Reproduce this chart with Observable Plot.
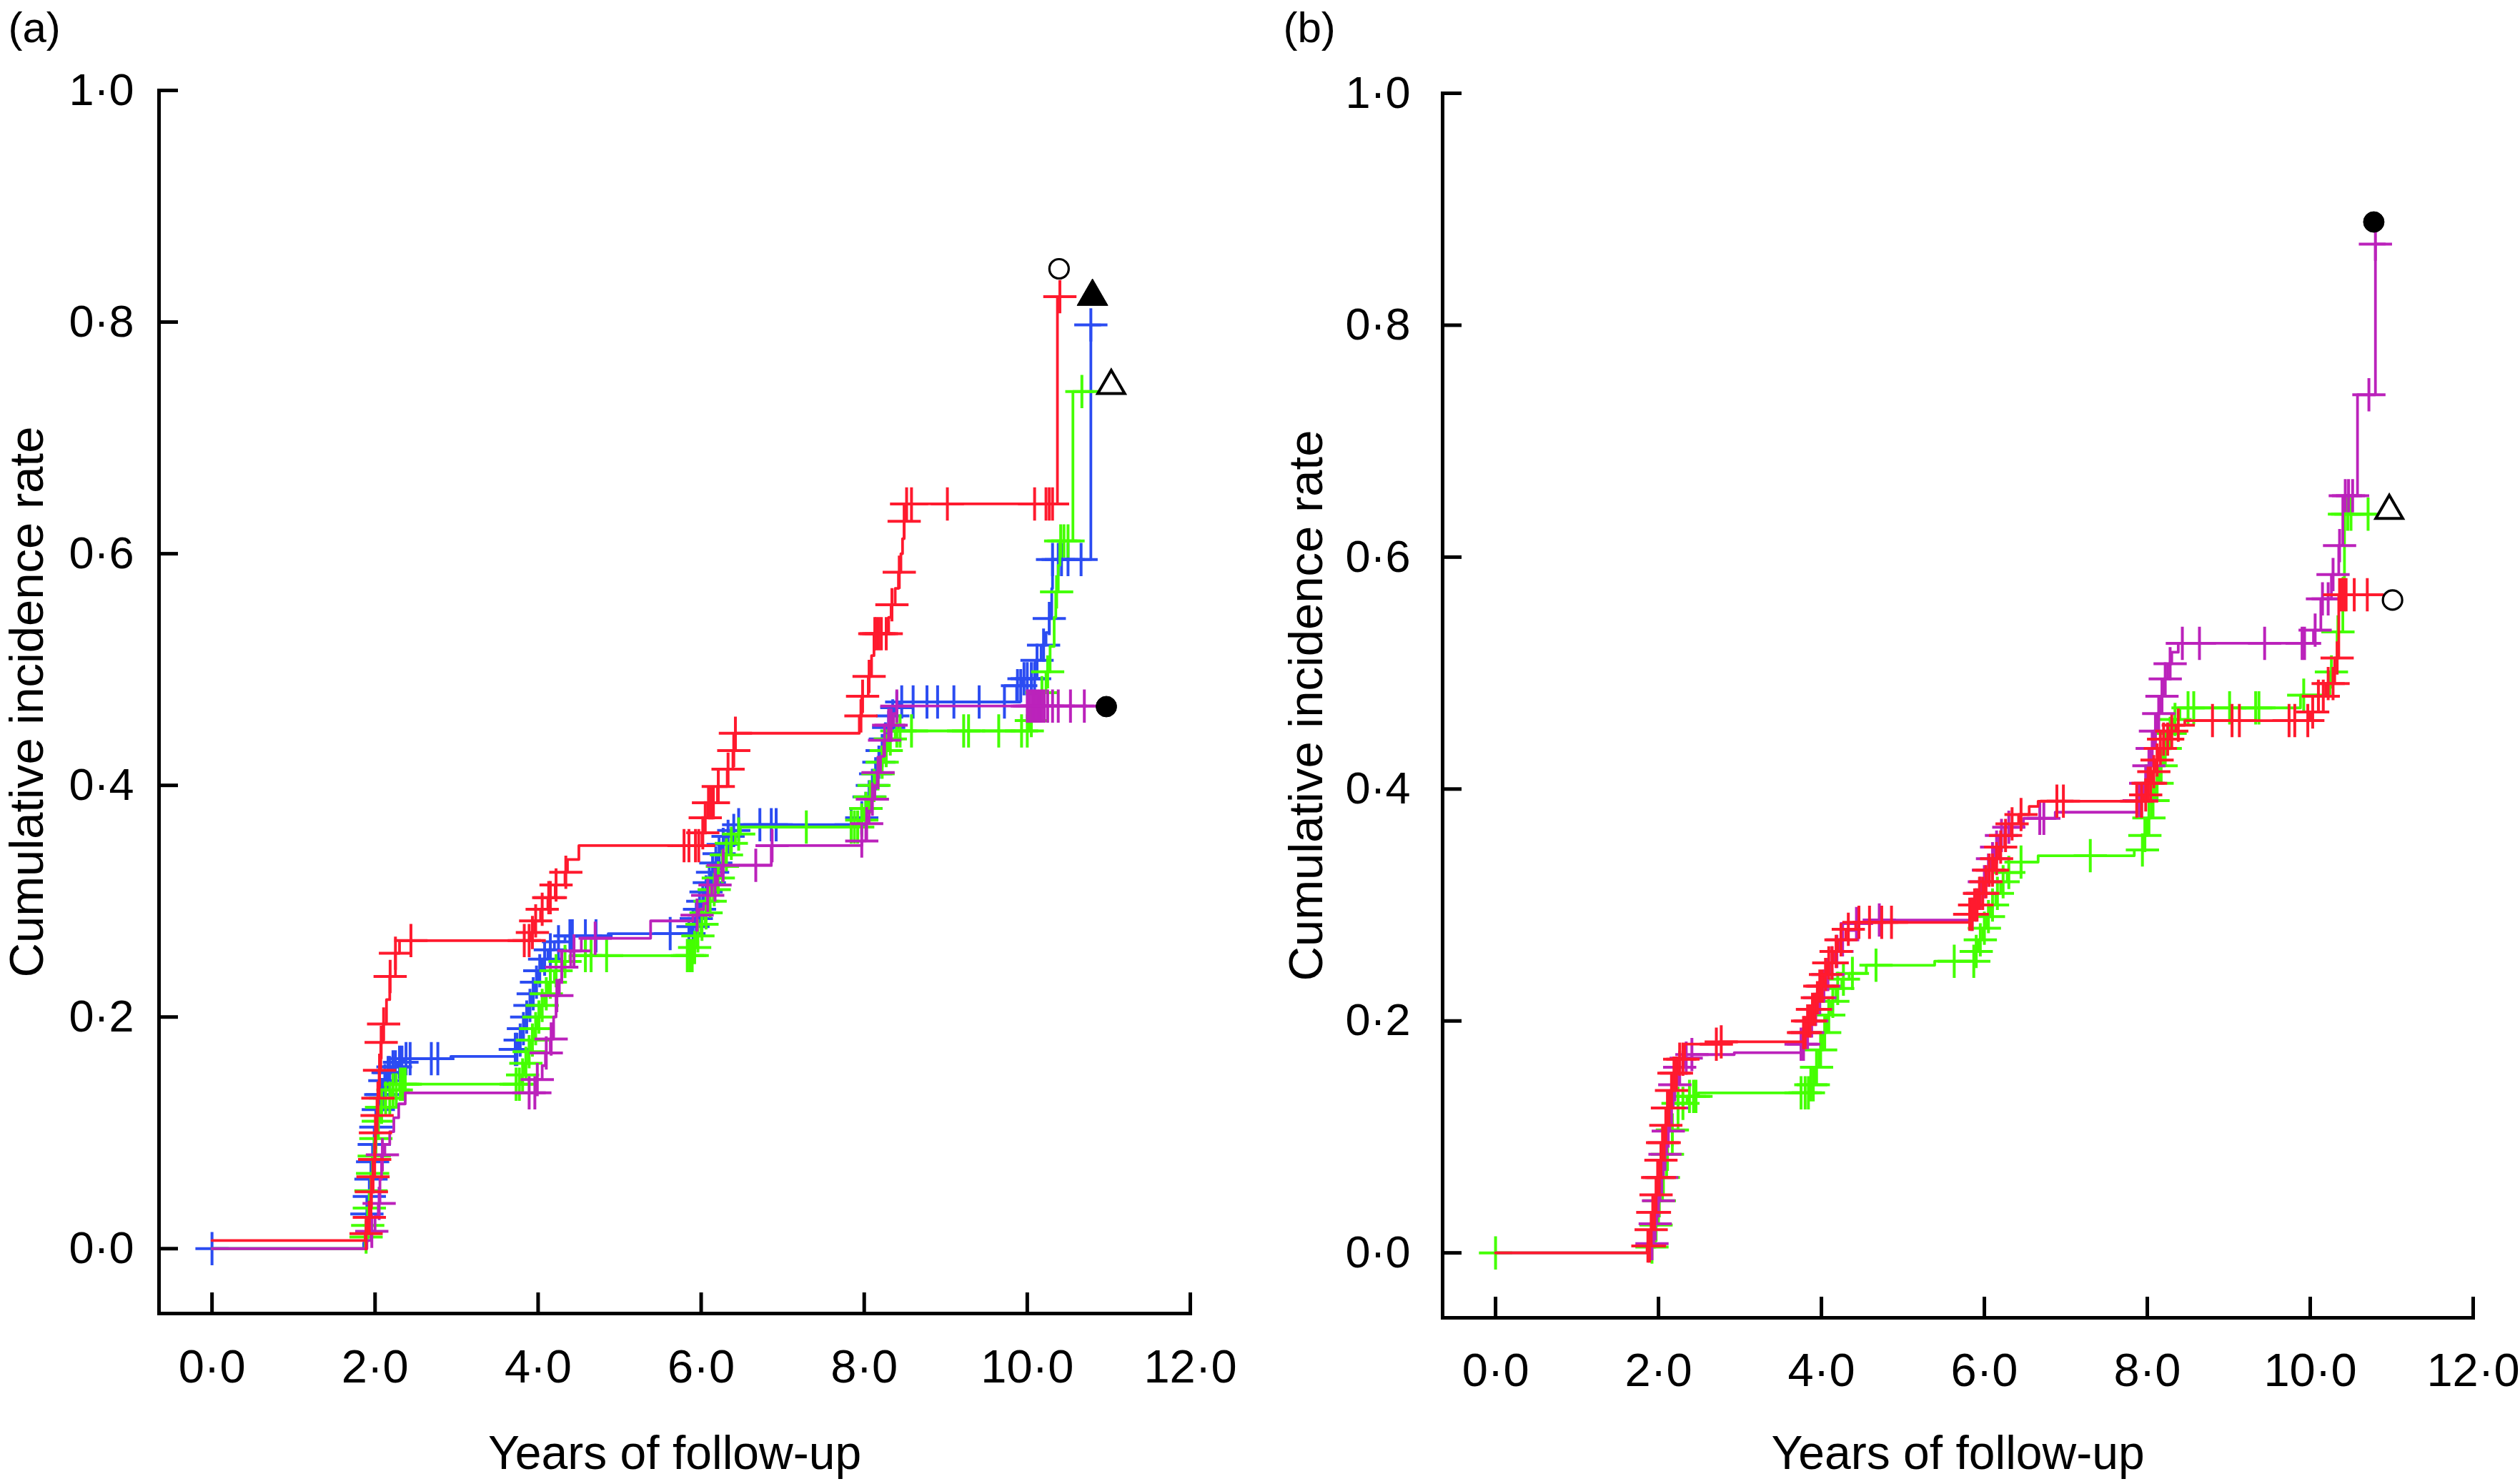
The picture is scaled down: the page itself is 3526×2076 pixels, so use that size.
<!DOCTYPE html>
<html><head><meta charset="utf-8">
<script src="https://cdn.jsdelivr.net/npm/d3@7"></script>
<script src="https://cdn.jsdelivr.net/npm/@observablehq/plot@0.6"></script>
<style>
html,body{margin:0;padding:0;background:#fff;}
#root{position:relative;width:3526px;height:2076px;background:#fff;overflow:hidden;}
#root svg{position:absolute;top:0;}
</style></head><body><div id="root"></div>
<script>
// ---------- axes ----------
const xTicks = [0, 2, 4, 6, 8, 10, 12];
const yTicks = [0, 0.2, 0.4, 0.6, 0.8, 1.0];
const xTitle = "Years of follow-up";
const yTitle = "Cumulative incidence rate";
const panelLabels = ["(a)", "(b)"];

// ---------- panel (a) ----------
const aRedT = [0,1.88,1.92,1.95,1.97,1.99,2.00,2.02,2.03,2.05,2.07,2.10,2.14,2.18,2.25,2.30,3.92,3.96,4.03,4.12,4.21,4.33,4.36,4.50,6.01,6.04,6.08,6.20,6.32,6.39,6.42,7.94,7.97,8.05,8.09,8.12,8.30,8.33,8.38,8.42,8.45,8.47,8.49,8.50,10.37,10.53];
const aRedV = [0.007,0.013,0.027,0.049,0.062,0.077,0.100,0.115,0.130,0.154,0.178,0.194,0.215,0.235,0.255,0.266,0.273,0.283,0.293,0.303,0.314,0.325,0.336,0.348,0.359,0.372,0.385,0.399,0.414,0.430,0.445,0.460,0.477,0.494,0.512,0.531,0.545,0.556,0.570,0.584,0.600,0.613,0.628,0.643,0.822,0.822];
const aRedC = [1.89,1.93,1.955,1.975,1.995,2.005,2.025,2.035,2.055,2.075,2.105,2.185,2.25,2.44,3.83,3.89,3.93,3.97,4.05,4.13,4.15,4.22,4.34,5.79,5.85,5.93,5.97,6.02,6.05,6.09,6.11,6.13,6.15,6.21,6.33,6.40,6.42,7.96,7.98,8.06,8.13,8.15,8.18,8.21,8.27,8.34,8.43,8.49,8.52,8.58,9.02,10.09,10.23,10.27,10.31,10.40];

const aBlueT = [0,1.86,1.88,1.90,1.92,1.94,1.96,1.98,2.00,2.03,2.06,2.10,2.15,2.20,2.28,2.36,2.93,3.72,3.76,3.80,3.84,3.88,3.92,3.96,4.00,4.05,4.12,4.20,4.33,4.86,5.88,5.92,5.96,6.00,6.04,6.08,6.12,6.16,6.20,6.25,6.30,6.36,6.46,7.95,8.00,8.04,8.08,8.12,8.16,8.20,8.24,8.28,8.33,8.38,8.43,9.87,9.93,10.10,10.17,10.23,10.27,10.30,10.31,10.78,10.90];
const aBlueV = [0,0.005,0.015,0.030,0.045,0.060,0.075,0.090,0.105,0.120,0.133,0.145,0.152,0.157,0.161,0.164,0.166,0.172,0.180,0.190,0.200,0.210,0.220,0.230,0.240,0.250,0.258,0.265,0.270,0.272,0.278,0.285,0.293,0.300,0.308,0.316,0.325,0.333,0.341,0.349,0.356,0.361,0.366,0.372,0.380,0.390,0.400,0.410,0.420,0.430,0.440,0.450,0.460,0.467,0.472,0.486,0.492,0.508,0.521,0.532,0.544,0.570,0.595,0.7975,0.7975];
const aBlueC = [0,1.90,1.93,1.95,1.97,1.99,2.01,2.04,2.07,2.09,2.12,2.16,2.18,2.22,2.25,2.30,2.33,2.38,2.43,2.69,2.77,3.72,3.74,3.78,3.82,3.86,3.90,3.94,3.98,4.02,4.08,4.15,4.25,4.39,4.42,4.58,4.71,5.62,5.85,5.90,5.94,5.98,6.02,6.06,6.10,6.14,6.18,6.22,6.27,6.33,6.40,6.46,6.72,6.86,6.92,7.84,7.97,8.02,8.06,8.10,8.14,8.18,8.22,8.26,8.30,8.35,8.40,8.46,8.60,8.77,8.90,9.10,9.41,9.72,9.88,9.92,9.96,10.00,10.05,10.09,10.12,10.20,10.27,10.31,10.38,10.42,10.50,10.66,10.78];

const aGreenT = [0,1.88,1.90,1.92,1.94,1.96,1.98,2.00,2.03,2.07,2.12,2.20,2.30,3.80,3.84,3.88,3.92,3.96,4.00,4.04,4.08,4.13,4.20,4.30,4.39,5.90,5.95,6.00,6.05,6.10,6.15,6.20,6.25,6.30,6.36,6.42,6.48,7.95,8.00,8.05,8.10,8.15,8.20,8.25,8.30,8.38,10.03,10.17,10.23,10.28,10.33,10.35,10.38,10.40,10.56,10.81];
const aGreenV = [0,0.010,0.020,0.035,0.050,0.065,0.080,0.095,0.110,0.122,0.130,0.137,0.142,0.150,0.160,0.170,0.180,0.190,0.200,0.210,0.220,0.230,0.240,0.248,0.253,0.260,0.270,0.280,0.290,0.300,0.310,0.320,0.330,0.340,0.350,0.358,0.364,0.370,0.380,0.390,0.400,0.410,0.420,0.430,0.440,0.447,0.456,0.480,0.498,0.520,0.545,0.567,0.590,0.611,0.740,0.740];
const aGreenC = [1.89,1.91,1.93,1.95,1.97,1.99,2.01,2.04,2.08,2.13,2.18,2.22,2.26,2.31,2.34,2.37,3.73,3.77,3.81,3.85,3.89,3.93,3.97,4.01,4.05,4.10,4.15,4.22,4.33,4.58,4.65,4.84,5.83,5.86,5.89,5.92,5.96,6.01,6.06,6.11,6.16,6.21,6.26,6.31,6.37,6.46,7.29,7.84,7.88,7.92,7.97,8.02,8.07,8.12,8.17,8.22,8.27,8.32,8.40,8.44,8.58,9.22,9.28,9.65,9.93,10.00,10.05,10.18,10.25,10.36,10.41,10.45,10.50,10.67];

const aPurpleT = [0,1.90,1.95,2.00,2.04,2.06,2.08,2.12,2.18,2.23,2.29,2.37,3.97,4.05,4.09,4.15,4.19,4.22,4.26,4.29,4.40,4.53,5.38,5.90,5.97,6.03,6.08,6.13,6.20,6.25,6.86,7.97,8.02,8.06,8.09,8.13,8.16,8.20,8.24,8.30,8.36,8.40,10.82];
const aPurpleV = [0,0.007,0.015,0.028,0.039,0.060,0.081,0.090,0.101,0.113,0.125,0.1345,0.146,0.158,0.169,0.181,0.200,0.2185,0.232,0.243,0.257,0.268,0.283,0.288,0.293,0.298,0.305,0.314,0.322,0.331,0.348,0.352,0.367,0.378,0.388,0.400,0.411,0.425,0.439,0.452,0.462,0.4685,0.4685];
const aPurpleC = [1.96,2.05,2.09,3.89,3.96,3.99,4.10,4.16,4.23,4.29,4.44,4.70,5.95,6.08,6.17,6.27,6.67,6.87,7.97,8.03,8.10,8.17,8.25,8.30,8.33,8.40,10.00,10.03,10.06,10.09,10.12,10.15,10.18,10.21,10.25,10.31,10.38,10.53,10.70];

const aMarkGroup = ["red", "blue", "green", "purple"];
const aMarkX = [10.39, 10.80, 11.03, 10.97];
const aMarkY = [0.846, 0.822, 0.745, 0.468];

// ---------- panel (b) ----------
const bGreenT = [0,1.90,1.96,2.00,2.05,2.10,2.17,2.24,2.35,2.49,3.87,3.92,3.97,4.02,4.07,4.12,4.18,4.25,4.34,4.55,5.39,5.88,5.93,5.98,6.03,6.08,6.14,6.20,6.28,6.45,6.66,7.84,7.95,8.00,8.05,8.10,8.15,8.20,8.26,8.32,8.40,9.88,10.24,10.33,10.40,10.42,10.80];
const bGreenV = [0,0.005,0.024,0.045,0.065,0.085,0.106,0.129,0.135,0.138,0.145,0.160,0.175,0.190,0.205,0.217,0.228,0.236,0.241,0.248,0.2515,0.260,0.270,0.280,0.290,0.300,0.310,0.320,0.328,0.337,0.3425,0.3475,0.360,0.375,0.390,0.405,0.420,0.435,0.448,0.460,0.470,0.481,0.501,0.5355,0.582,0.637,0.637];
const bGreenC = [0,1.92,1.97,2.01,2.06,2.11,2.17,2.24,2.30,2.38,2.43,2.46,3.75,3.80,3.84,3.87,3.90,3.94,3.99,4.04,4.09,4.14,4.20,4.27,4.38,4.67,5.63,5.87,5.90,5.95,6.00,6.05,6.10,6.16,6.23,6.30,6.45,7.30,7.94,7.97,8.02,8.07,8.12,8.17,8.22,8.28,8.34,8.50,8.57,9.01,9.33,9.37,9.92,10.26,10.34,10.42,10.46,10.50,10.71];

const bPurpleT = [0,1.90,1.94,1.98,2.02,2.06,2.10,2.14,2.18,2.24,2.32,2.41,2.93,3.75,3.80,3.85,3.90,3.95,4.00,4.05,4.10,4.16,4.22,4.30,4.43,4.54,5.82,5.87,5.92,5.97,6.02,6.07,6.12,6.18,6.25,6.48,6.87,7.90,7.95,8.00,8.04,8.08,8.12,8.16,8.20,8.25,8.30,8.38,10.04,10.13,10.26,10.35,10.40,10.58,10.80,10.92];
const bPurpleV = [0,0.008,0.025,0.045,0.065,0.085,0.105,0.125,0.145,0.160,0.168,0.171,0.1726,0.180,0.190,0.200,0.210,0.220,0.230,0.240,0.250,0.260,0.270,0.278,0.284,0.287,0.292,0.300,0.310,0.320,0.330,0.340,0.350,0.360,0.367,0.3747,0.380,0.390,0.405,0.420,0.435,0.450,0.465,0.480,0.495,0.508,0.518,0.5257,0.537,0.564,0.585,0.610,0.653,0.740,0.870,0.870];
const bPurpleC = [1.92,1.96,2.00,2.04,2.08,2.12,2.16,2.20,2.26,2.34,2.41,3.75,3.78,3.83,3.88,3.93,3.98,4.03,4.08,4.13,4.19,4.26,4.43,4.71,5.85,5.90,5.95,6.00,6.05,6.10,6.15,6.21,6.30,6.68,6.73,7.90,7.93,7.98,8.02,8.06,8.10,8.14,8.18,8.22,8.28,8.43,8.64,9.44,9.90,9.93,10.06,10.15,10.22,10.28,10.36,10.43,10.47,10.52,10.72,10.80];

const bRedT = [0,1.86,1.90,1.93,1.96,1.99,2.02,2.05,2.08,2.11,2.14,2.18,2.23,2.32,2.75,3.78,3.83,3.88,3.93,3.98,4.03,4.08,4.14,4.20,4.30,4.42,5.82,5.88,5.94,6.00,6.06,6.12,6.18,6.25,6.33,6.42,6.55,6.66,7.95,8.00,8.05,8.10,8.15,8.20,8.27,8.35,8.46,10.00,10.10,10.19,10.30,10.35,10.83];
const bRedV = [0,0.006,0.020,0.035,0.050,0.065,0.080,0.095,0.110,0.125,0.140,0.155,0.167,0.180,0.182,0.190,0.200,0.210,0.220,0.230,0.240,0.250,0.260,0.270,0.279,0.285,0.292,0.300,0.310,0.320,0.330,0.340,0.350,0.360,0.370,0.378,0.385,0.3895,0.395,0.405,0.415,0.425,0.435,0.443,0.450,0.455,0.459,0.4665,0.480,0.491,0.513,0.5675,0.5675];
const bRedC = [1.87,1.89,1.91,1.93,1.95,1.97,1.99,2.01,2.03,2.05,2.07,2.09,2.11,2.13,2.16,2.19,2.22,2.26,2.30,2.71,2.77,3.78,3.80,3.83,3.86,3.89,3.92,3.95,3.98,4.01,4.05,4.09,4.13,4.18,4.24,4.33,4.46,4.59,4.74,4.86,5.82,5.85,5.88,5.91,5.94,5.98,6.02,6.06,6.10,6.15,6.20,6.26,6.34,6.45,6.89,6.97,7.87,7.93,7.98,8.01,8.04,8.08,8.12,8.16,8.20,8.25,8.30,8.38,8.80,9.04,9.13,9.74,9.81,9.97,10.03,10.10,10.16,10.22,10.28,10.33,10.36,10.39,10.42,10.44,10.54,10.70];

const bMarkGroup = ["purple", "green", "red"];
const bMarkX = [10.78, 10.97, 11.01];
const bMarkY = [0.889, 0.640, 0.563];

// ---------- styling (not data) ----------
const COLORS = {red: "#ff1a2e", blue: "#2b4cf2", green: "#44ff00", purple: "#bb22bb"};
const MARK_STYLE = {
  red:    {symbol: "circle",   fill: "white", r: 13.5, strokeWidth: 3.2},
  blue:   {symbol: "triangle", fill: "black", r: 16,   strokeWidth: 1},
  green:  {symbol: "triangle", fill: "white", r: 14,   strokeWidth: 4},
  purple: {symbol: "circle",   fill: "black", r: 14.5, strokeWidth: 1}
};
const FONT = "'Liberation Sans', Arial, Helvetica, sans-serif";
const fmt = v => d3.format(".1f")(v).replace(".", "\u00b7");

function valueAt(T, V, t) {
  let i = d3.bisectRight(T, t) - 1;
  if (i < 0) i = 0;
  return V[i];
}

function seriesMarks(name, T, V, C) {
  const line = T.map((t, i) => ({t, v: V[i]}));
  const cens = C.map(t => ({t, v: valueAt(T, V, t)}));
  return [
    Plot.line(line, {x: "t", y: "v", curve: "step-after", stroke: COLORS[name], strokeWidth: 3.8}),
    Plot.dot(cens, {x: "t", y: "v", symbol: "plus", r: 15, stroke: COLORS[name], strokeWidth: 4})
  ];
}

function markerMarks(groups, xs, ys) {
  return groups.map((g, i) => {
    const s = MARK_STYLE[g];
    return Plot.dot([{x: xs[i], y: ys[i]}], {x: "x", y: "y", symbol: s.symbol, r: s.r,
      fill: s.fill, stroke: "black", strokeWidth: s.strokeWidth});
  });
}

function panel(cfg) {
  return Plot.plot({
    width: cfg.width, height: 2076,
    marginLeft: cfg.ml, marginRight: cfg.mr, marginTop: cfg.mt, marginBottom: cfg.mb,
    x: {domain: [-0.65, 12]},
    y: {domain: [-0.056, 1]},
    style: {fontFamily: FONT, background: "transparent", color: "black", overflow: "visible"},
    marks: [
      Plot.frame({anchor: "left", stroke: "black", strokeWidth: 5}),
      Plot.frame({anchor: "bottom", stroke: "black", strokeWidth: 5}),
      Plot.axisY({ticks: yTicks, tickSize: 27, insetLeft: 27, fill: "none", stroke: "black", strokeWidth: 5, label: null}),
      Plot.axisX({ticks: xTicks, tickSize: 29, insetBottom: 29, fill: "none", stroke: "black", strokeWidth: 5, label: null}),
      Plot.axisY({ticks: yTicks, tickSize: 0, tickPadding: cfg.yPad, tickFormat: fmt, fontSize: 63, fill: "black", label: null}),
      Plot.axisX({ticks: xTicks, tickSize: 0, tickPadding: cfg.xPad, tickFormat: fmt, fontSize: 65, fill: "black", label: null}),
      Plot.text([yTitle], {frameAnchor: "left", rotate: -90, dx: cfg.yTitleDx, fontSize: 67, lineAnchor: "middle", textAnchor: "middle", fill: "black"}),
      Plot.text([xTitle], {frameAnchor: "bottom", dy: cfg.xTitleDy, fontSize: 66, lineAnchor: "bottom", textAnchor: "middle", fill: "black"}),
      Plot.text([cfg.label], {frameAnchor: "top-left", dx: cfg.labDx, dy: cfg.labDy, fontSize: 60, lineAnchor: "bottom", textAnchor: "start", fill: "black"}),
      ...cfg.series.flatMap(s => seriesMarks(...s)),
      ...markerMarks(...cfg.markers)
    ]
  });
}

const root = document.getElementById("root");

const svgA = panel({
  width: 1760, ml: 222, mr: 95, mt: 126, mb: 239,
  yPad: 35, xPad: 50, yTitleDx: -184, xTitleDy: 217, labDx: -211, labDy: -68,
  label: panelLabels[0],
  series: [
    ["blue", aBlueT, aBlueV, aBlueC],
    ["green", aGreenT, aGreenV, aGreenC],
    ["purple", aPurpleT, aPurpleV, aPurpleC],
    ["red", aRedT, aRedV, aRedC]
  ],
  markers: [aMarkGroup, aMarkX, aMarkY]
});
svgA.style.left = "0px";
root.appendChild(svgA);

const svgB = panel({
  width: 1760, ml: 252, mr: 66, mt: 130, mb: 233,
  yPad: 45, xPad: 49, yTitleDx: -190, xTitleDy: 211, labDx: -223, labDy: -72,
  label: panelLabels[1],
  series: [
    ["green", bGreenT, bGreenV, bGreenC],
    ["purple", bPurpleT, bPurpleV, bPurpleC],
    ["red", bRedT, bRedV, bRedC]
  ],
  markers: [bMarkGroup, bMarkX, bMarkY]
});
svgB.style.left = "1766px";
root.appendChild(svgB);
</script>
</body></html>
